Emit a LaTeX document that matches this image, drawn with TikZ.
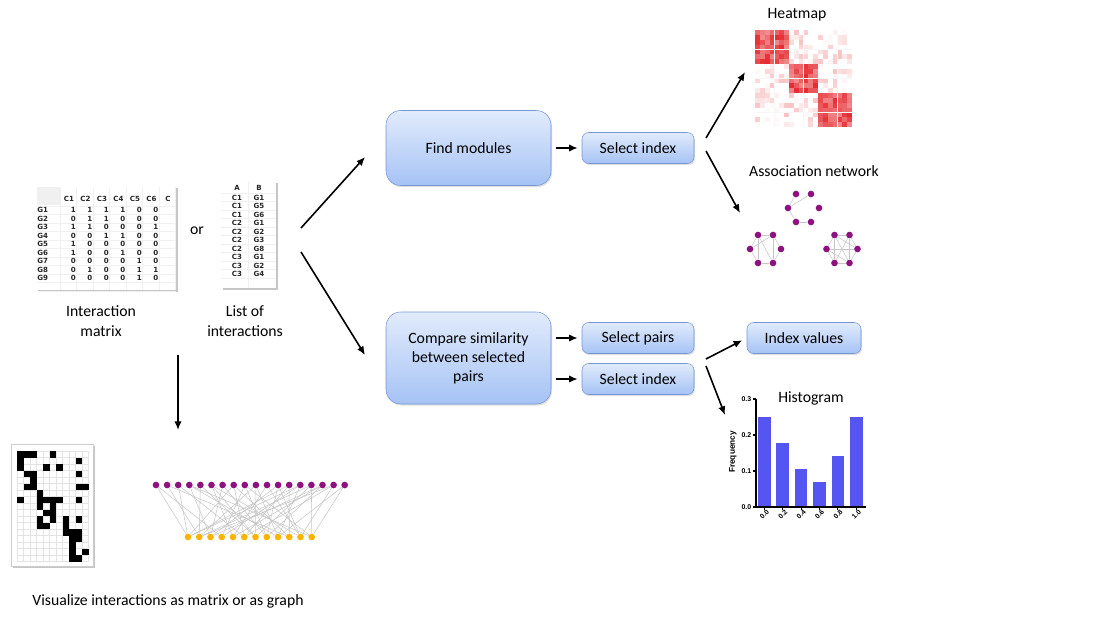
\documentclass[tikz,border=0pt]{standalone}
\usepackage{fontspec}
\setmainfont{Carlito}
\newfontfamily\tabfont{DejaVu Sans}
\newfontfamily\axfont{Liberation Sans}
\usetikzlibrary{shadows,arrows.meta}
\definecolor{boxtop}{HTML}{E1EBFC}
\definecolor{boxbot}{HTML}{A6C3F5}
\definecolor{boxline}{HTML}{7396D4}
\definecolor{netnode}{HTML}{8E1180}
\definecolor{goldnode}{HTML}{F8B400}
\definecolor{heat}{HTML}{E42A2F}
\definecolor{histbar}{HTML}{5555F2}
\tikzstyle{bigbox}=[draw=boxline,top color=boxtop,bottom color=boxbot,rounded corners=11pt,minimum width=123.75pt,align=center,drop shadow={shadow xshift=0.8pt,shadow yshift=-1.2pt,opacity=0.25}]
\tikzstyle{smallbox}=[draw=boxline,top color=boxtop,bottom color=boxbot,rounded corners=5pt,minimum width=84pt,minimum height=23.25pt,drop shadow={shadow xshift=0.8pt,shadow yshift=-1.2pt,opacity=0.25}]
\tikzstyle{arr}=[-{Latex[length=6.5pt,width=5.5pt]},line width=1.2pt]
\tikzstyle{vertex}=[circle,fill=netnode,inner sep=0pt,minimum size=5pt]
\tikzstyle{link}=[gray!45,line width=0.4pt]
\tikzstyle{cell}=[font=\tabfont\bfseries\fontsize{5.3}{6}\selectfont,inner sep=0pt,text=black!85]
\tikzstyle{ax}=[font=\axfont\bfseries\fontsize{5.2}{6}\selectfont,inner sep=0pt]
\tikzstyle{sheet}=[fill=white,drop shadow={shadow xshift=1.2pt,shadow yshift=-1.2pt,opacity=0.45}]

\begin{document}
\begin{tikzpicture}[x=0.75pt,y=-0.75pt,font=\fontsize{11.8}{14.5}\selectfont]
  \useasboundingbox (0,0) rectangle (1093,618);

  % interaction matrix
  \fill[sheet] (36,186) rectangle (176,290);
  \fill[gray!12] (37,187) rectangle (60,205);
  \foreach \k in {0,...,10} \draw[gray!12,line width=0.3pt] (37,{205.75+8.5*\k}) -- (176,{205.75+8.5*\k});
  \foreach \k in {0,...,7} \draw[gray!12,line width=0.3pt] ({60+16.5*\k},187) -- ({60+16.5*\k},290);
  \foreach \c [count=\k] in {C1,C2,C3,C4,C5,C6,C}
    \node[cell] (h\k) at ({52.5+16.5*\k},199) {\c};
  \foreach \vals [count=\r] in {{1,1,1,1,0,0},{0,1,1,0,0,0},{1,1,0,0,0,1},{0,0,1,1,0,0},{1,0,0,0,0,0},{1,0,0,1,0,0},{0,0,0,0,1,0},{0,1,0,0,1,1},{0,0,0,0,1,0}}{
    \node[cell,anchor=west] (g\r) at (37,{201.5+8.5*\r}) {G\r};
    \foreach \v [count=\k] in \vals
      \node[cell,anchor=east] (m\r-\k) at ({59.5+16.5*\k},{201.5+8.5*\r}) {\v};
  }
  \node[align=center] (matlabel) at (101,321) {Interaction\\matrix};
  \node (or) at (197,231) {or};

  % list of interactions
  \fill[sheet] (221,181) rectangle (276,288);
  \foreach \k in {0,...,10} \draw[gray!12,line width=0.3pt] (221,{193+8.5*\k}) -- (276,{193+8.5*\k});
  \draw[gray!12,line width=0.3pt] (248,181) -- (248,288);
  \node[cell] (colA) at (237,188) {A};
  \node[cell] (colB) at (259,188) {B};
  \foreach \a/\b [count=\r] in {C1/G1,C1/G5,C1/G6,C2/G1,C2/G2,C2/G3,C2/G8,C3/G1,C3/G2,C3/G4}{
    \node[cell] (la\r) at (237,{189.2+8.5*\r}) {\a};
    \node[cell] (lb\r) at (259,{189.2+8.5*\r}) {\b};
  }
  \node[align=center] (listlabel) at (245,321) {List of\\interactions};

  % main boxes
  \node[bigbox,minimum height=56.25pt] (find) at (468.5,148) {Find modules};
  \node[bigbox,minimum height=69pt,font=\fontsize{11.8}{14.3}\selectfont] (compare) at (468.5,358) {Compare similarity\\between selected\\pairs};
  \node[smallbox] (sel1) at (638,148) {Select index};
  \node[smallbox] (pairs) at (638,338) {Select pairs};
  \node[smallbox] (sel2) at (638,379) {Select index};
  \node[smallbox,minimum width=85.5pt] (vals) at (804,338) {Index values};

  \coordinate (in1) at (301,228);
  \coordinate (in2) at (301,252);
  \coordinate (to1) at (365,157);
  \coordinate (to2) at (365,355);
  \draw[arr] (in1) -- (to1);
  \draw[arr] (in2) -- (to2);
  \draw[arr,shorten <=3.75pt,shorten >=3pt] (find) -- (sel1);
  \draw[arr,shorten <=3.75pt,shorten >=3pt] (compare.east |- pairs) -- (pairs);
  \draw[arr,shorten <=3.75pt,shorten >=3pt] (compare.east |- sel2) -- (sel2);

  \coordinate (s1a) at (706,138);
  \coordinate (hm1) at (745,72);
  \coordinate (s1b) at (706,151);
  \coordinate (nw1) at (740,213);
  \coordinate (s2a) at (706,359);
  \coordinate (s2b) at (706,366);
  \coordinate (hs1) at (725,415);
  \draw[arr] (s1a) -- (hm1);
  \draw[arr] (s1b) -- (nw1);
  \draw[arr,shorten >=3.75pt] (s2a) -- (vals.west);
  \draw[arr] (s2b) -- (hs1);

  \coordinate (d1) at (178,355);
  \coordinate (d2) at (178,430);
  \draw[arr] (d1) -- (d2);

  % heatmap
  \node (hmlabel) at (797,15) {Heatmap};
  \fill[white!94!gray] (755,30) rectangle (852,127);
  \pgfmathsetseed{12}
  \foreach \i in {0,...,19}
    \foreach \j in {0,...,19}{
      \pgfmathtruncatemacro\blk{((\i<7)&&(\j<7))||((\i>6)&&(\i<13)&&(\j>6)&&(\j<13))||((\i>12)&&(\j>12))}
      \pgfmathtruncatemacro\v{\blk==1 ? 55+45*rnd : (rnd<0.55 ? 0 : 28*rnd)}
      \fill[heat!\v] ({755.1+4.85*\i},{30.1+4.85*\j}) rectangle +(4.7,4.7);
    }

  % association network
  \node (nwlabel) at (814,171) {Association network};
  \foreach \n/\cx/\cy in {a/803.5/208,b/765.5/249,c/842/249}
    \foreach \dx/\dy [count=\k] in {-7.5/-14,7.5/-14,-15.5/0,15.5/0,-7.5/14,7.5/14}
      \node[vertex] (\n\k) at ({\cx+\dx},{\cy+\dy}) {};
  \foreach \p/\q in {a3/a1,a3/a2,a3/a5,a5/a6,
                     b1/b2,b1/b3,b1/b5,b1/b6,b2/b3,b2/b6,b3/b5,b5/b6,b2/b4,b4/b6,
                     c1/c2,c1/c3,c2/c4,c3/c5,c5/c6,c6/c4,c3/c4,c1/c5,c1/c6,c2/c5,c3/c6,c1/c4,c2/c6}
    \draw[link] (\p) -- (\q);

  % histogram
  \node (hslabel) at (811,398) {Histogram};
  \node[ax,rotate=90,font=\axfont\bfseries\fontsize{6.2}{7}\selectfont] (freq) at (733,452) {Frequency};
  \foreach \h [count=\k from 0] in {0.25,0.178,0.105,0.07,0.142,0.25}
    \fill[histbar] ({758+18.4*\k},507) rectangle +(12.5,{-360*\h});
  \draw[line width=0.8pt] (756,399) -- (756,507) -- (866,507);
  \foreach \t [count=\k from 0] in {0.0,0.1,0.2,0.3}{
    \draw[line width=0.8pt] (753,{507-36*\k}) -- (756,{507-36*\k});
    \node[ax,anchor=east] (yt\k) at (751.5,{507-36*\k}) {\t};
  }
  \foreach \t [count=\k from 0] in {0.0,0.2,0.4,0.6,0.8,1.0}{
    \draw[line width=0.8pt] ({764.25+18.4*\k},507) -- +(0,3);
    \node[ax,anchor=east,rotate=45] (xt\k) at ({768+18.4*\k},511) {\t};
  }

  % matrix view
  \filldraw[sheet,draw=gray!40,line width=0.3pt] (11,444) rectangle (93,566);
  \foreach \k in {0,...,17} \draw[gray!22,line width=0.3pt] (17,{451+6.5*\k}) -- (88.5,{451+6.5*\k});
  \foreach \k in {0,...,11} \draw[gray!22,line width=0.3pt] ({17+6.5*\k},451) -- ({17+6.5*\k},561.5);
  \foreach \c/\r in {0/0,1/0,2/0,5/0,0/1,9/1,0/2,4/2,6/2,1/3,2/3,9/3,2/4,1/5,2/5,9/5,10/5,3/6,
                     0/7,3/7,4/7,5/7,6/7,9/7,3/8,5/8,4/9,5/9,3/10,5/10,7/10,9/10,3/11,4/11,7/11,
                     7/12,8/12,9/12,8/13,9/13,8/14,8/15,10/15,8/16,9/16}
    \fill[black] ({17+6.5*\c},{451+6.5*\r}) rectangle +(6.5,6.5);

  % graph view
  \foreach \k in {1,...,18} \node[vertex] (t\k) at ({156+11.1*(\k-1)},485) {};
  \foreach \k in {1,...,12} \node[vertex,fill=goldnode] (u\k) at ({188+11.25*(\k-1)},537) {};
  \foreach \p/\q in {1/1,1/4,2/2,3/1,3/6,4/3,4/9,5/2,5/7,6/5,6/11,7/3,7/8,8/1,8/6,8/10,9/4,9/12,
                     10/2,10/7,10/9,11/5,11/11,12/3,12/8,13/1,13/6,13/10,14/4,14/9,15/2,15/7,15/12,
                     16/5,16/8,16/3,17/6,17/11,18/9,18/12,2/10,4/12,6/7,9/8,12/11,14/1,17/2}
    \draw[link] (t\p) -- (u\q);

  \node (caption) at (168,601) {Visualize interactions as matrix or as graph};
\end{tikzpicture}
\end{document}
